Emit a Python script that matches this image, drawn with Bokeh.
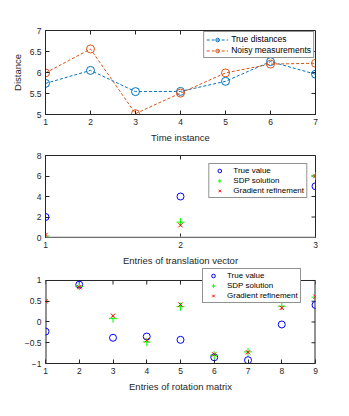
import math
from bokeh.plotting import figure
from bokeh.layouts import column
from bokeh.models import Legend, LegendItem, FixedTicker, Span
from bokeh.embed import file_html
from bokeh.resources import INLINE

# Panel 1 data
time_idx = [1, 2, 3, 4, 5, 6, 7]
true_dist = [5.74, 6.05, 5.545, 5.55, 5.79, 6.26, 5.96]
noisy_dist = [5.99, 6.56, 5.02, 5.51, 5.99, 6.20, 6.22]
dist_ticks = [5, 5.5, 6, 6.5, 7]

# Panel 2 data
trans_idx = [1, 2, 3]
trans_true = [2.0, 4.0, 5.0]
trans_sdp = [0.15, 1.5, 6.0]
trans_grad = [0.25, 1.2, 6.0]
trans_ticks = [0, 2, 4, 6, 8]

# Panel 3 data
rot_idx = [1, 2, 3, 4, 5, 6, 7, 8, 9]
rot_true = [-0.23, 0.9, -0.38, -0.35, -0.43, -0.85, -0.92, -0.06, 0.41]
rot_sdp = [0.5, 0.86, 0.08, -0.48, 0.37, -0.80, -0.72, 0.38, 0.60]
rot_grad = [0.5, 0.84, 0.15, -0.44, 0.42, -0.78, -0.73, 0.34, 0.61]
rot_ticks = [-1, -0.5, 0, 0.5, 1]

FONT = "Liberation Sans"
AX = "#262626"
BLUE = "#0072BD"
ORANGE = "#D95319"


def style(p, xticks, yticks, xlabel, ylabel, box):
    x0, x1, y0, y1 = box
    p.xgrid.visible = False
    p.ygrid.visible = False
    p.outline_line_color = AX
    p.background_fill_color = "white"
    p.border_fill_color = "white"
    for ax in p.axis:
        ax.major_tick_in = 4
        ax.major_tick_out = 0
        ax.minor_tick_in = 0
        ax.minor_tick_out = 0
        ax.axis_line_color = AX
        ax.major_tick_line_color = AX
        ax.major_label_text_font = FONT
        ax.major_label_text_font_size = "8.5px"
        ax.major_label_text_color = AX
        ax.axis_label_text_font = FONT
        ax.axis_label_text_font_size = "9.5px"
        ax.axis_label_text_font_style = "normal"
        ax.axis_label_text_color = AX
        ax.major_label_standoff = 4
        ax.axis_label_standoff = 4
    p.xaxis.ticker = FixedTicker(ticks=xticks)
    p.yaxis.ticker = FixedTicker(ticks=yticks)
    p.xaxis.axis_label = xlabel
    p.yaxis.axis_label = ylabel
    # inward tick marks on top and right edges of the box
    p.ray(xticks, [y1] * len(xticks), length=4, length_units="screen",
          angle=-math.pi / 2, line_color=AX, line_width=1)
    p.ray([x1] * len(yticks), yticks, length=4, length_units="screen",
          angle=math.pi, line_color=AX, line_width=1)


def make_legend(items, location, margin):
    lg = Legend(items=items, location=location, margin=margin,
                label_text_font=FONT, label_text_font_size="8px", label_text_color="black",
                label_height=9, glyph_height=9, glyph_width=16, label_standoff=6,
                spacing=1, padding=2, border_line_color=AX, border_line_width=1,
                background_fill_alpha=1.0)
    return lg


# ---------------- Panel 1 ----------------
p1 = figure(width=341, height=146, x_range=(1, 7), y_range=(5, 7),
            output_backend="svg", toolbar_location=None,
            min_border_left=45, min_border_right=26, min_border_top=30, min_border_bottom=32)
style(p1, time_idx, dist_ticks, "Time instance", "Distance", (1, 7, 5, 7))
l1 = p1.line(time_idx, true_dist, line_color=BLUE, line_dash="3 2", line_width=1)
c1 = p1.scatter(time_idx, true_dist, marker="circle", size=8, fill_color=None,
                line_color=BLUE, line_width=1)
l2 = p1.line(time_idx, noisy_dist, line_color=ORANGE, line_dash="3 2", line_width=1)
c2 = p1.scatter(time_idx, noisy_dist, marker="circle", size=8, fill_color=None,
                line_color=ORANGE, line_width=1)
leg1 = make_legend([LegendItem(label="True distances", renderers=[l1, c1]),
                    LegendItem(label="Noisy measurements", renderers=[l2, c2])],
                   "top_right", 1)
leg1.glyph_width = 22
leg1.label_standoff = 3
leg1.label_text_font_size = "8.5px"
p1.add_layout(leg1)

# ---------------- Panel 2 ----------------
p2 = figure(width=341, height=122, x_range=(1, 3), y_range=(0, 8),
            output_backend="svg", toolbar_location=None,
            min_border_left=45, min_border_right=26, min_border_top=9, min_border_bottom=29)
style(p2, trans_idx, trans_ticks, "Entries of translation vector", "", (1, 3, 0, 8))
p2.add_layout(Span(location=0, dimension="width", line_color="#b4b4b4", line_width=2))
a = p2.scatter(trans_idx, trans_true, marker="circle", size=7, fill_color=None,
               line_color="#0000FF", line_width=1)
b = p2.scatter(trans_idx, trans_sdp, marker="cross", size=8, line_color="#00FF00", line_width=1)
c = p2.scatter(trans_idx, trans_grad, marker="x", size=6, line_color="#FF0000", line_width=1)
leg2 = make_legend([LegendItem(label="True value", renderers=[a]),
                    LegendItem(label="SDP solution", renderers=[b]),
                    LegendItem(label="Gradient refinement", renderers=[c])],
                   "top_right", 8)
p2.add_layout(leg2)

# ---------------- Panel 3 ----------------
# the frame is extended upward so that the legend may overlap the region above the box
p3 = figure(width=341, height=140, x_range=(1, 9), y_range=(-1, 1.289),
            output_backend="svg", toolbar_location=None,
            min_border_left=45, min_border_right=26, min_border_top=0, min_border_bottom=45)
style(p3, rot_idx, rot_ticks, "Entries of rotation matrix", "", (1, 9, -1, 1))
p3.outline_line_color = None
p3.yaxis.axis_line_color = None
p3.segment(x0=[1, 9, 1], y0=[-1, -1, 1], x1=[1, 9, 9], y1=[1, 1, 1],
           line_color=AX, line_width=[2, 2, 1])
a3 = p3.scatter(rot_idx, rot_true, marker="circle", size=7, fill_color=None,
                line_color="#0000FF", line_width=1)
b3 = p3.scatter(rot_idx, rot_sdp, marker="cross", size=8, line_color="#00FF00", line_width=1)
c3 = p3.scatter(rot_idx, rot_grad, marker="x", size=6, line_color="#FF0000", line_width=1)
leg3 = make_legend([LegendItem(label="True value", renderers=[a3]),
                    LegendItem(label="SDP solution", renderers=[b3]),
                    LegendItem(label="Gradient refinement", renderers=[c3])],
                   (157, 60), 0)
p3.add_layout(leg3)

layout = column(p1, p2, p3, spacing=0)
open("out.html", "w").write(file_html(layout, INLINE))
